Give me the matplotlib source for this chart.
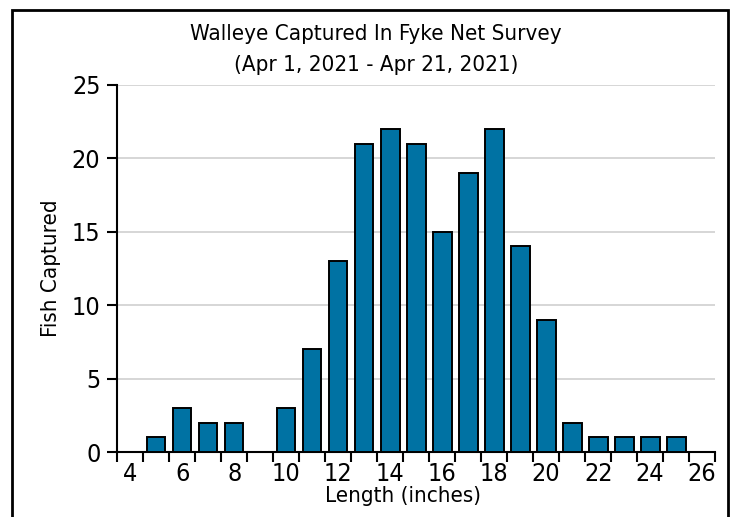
import numpy as np
import matplotlib.pyplot as plt
from matplotlib.patches import Rectangle

lengths = [5, 6, 7, 8, 9, 10, 11, 12, 13, 14, 15, 16, 17, 18, 19, 20, 21, 22, 23, 24, 25]
counts = [1, 3, 2, 2, 0, 3, 7, 13, 21, 22, 21, 15, 19, 22, 14, 9, 2, 1, 1, 1, 1]
xtick_vals = [4, 6, 8, 10, 12, 14, 16, 18, 20, 22, 24, 26]
ytick_vals = [0, 5, 10, 15, 20, 25]

plt.rcParams['font.family'] = ['DejaVu Sans']
plt.rcParams['font.stretch'] = 'condensed'

fig = plt.figure(figsize=(7.32, 5.17), dpi=100)
ax = fig.add_axes([0.16, 0.1257, 0.817, 0.71])

ax.bar(lengths, counts, width=0.72, color='#0072a3', edgecolor='black', linewidth=1.4, zorder=3)

ax.set_xlim(3.5, 26.5)
ax.set_ylim(0, 25)
ax.set_xticks(xtick_vals)
ax.set_xticks(np.arange(3.5, 27, 1), minor=True)
ax.tick_params(axis='x', which='major', length=0, labelsize=18, pad=7)
ax.tick_params(axis='x', which='minor', length=7, width=1.5, direction='out')
ax.set_yticks(ytick_vals)
ax.tick_params(axis='y', length=7, width=1.5, labelsize=18, pad=5)
ax.grid(axis='y', color='#d0d0d0', linewidth=1.2, zorder=0)
ax.set_axisbelow(True)

for s in ['top', 'right']:
    ax.spines[s].set_visible(False)
for s in ['left', 'bottom']:
    ax.spines[s].set_linewidth(1.5)

ax.set_xlabel('Length (inches)', fontsize=16, labelpad=0, x=0.478)
ax.set_ylabel('Fish Captured', fontsize=16, labelpad=8)
ax.set_title('Walleye Captured In Fyke Net Survey\n(Apr 1, 2021 - Apr 21, 2021)', fontsize=16,
             linespacing=1.7, pad=10, x=0.433)

fig.patches.append(Rectangle((12 / 732, -0.05), 716 / 732, 1.05 - 10 / 517, transform=fig.transFigure,
                             fill=False, edgecolor='black', linewidth=2))

fig.savefig('out.png', dpi=100)
